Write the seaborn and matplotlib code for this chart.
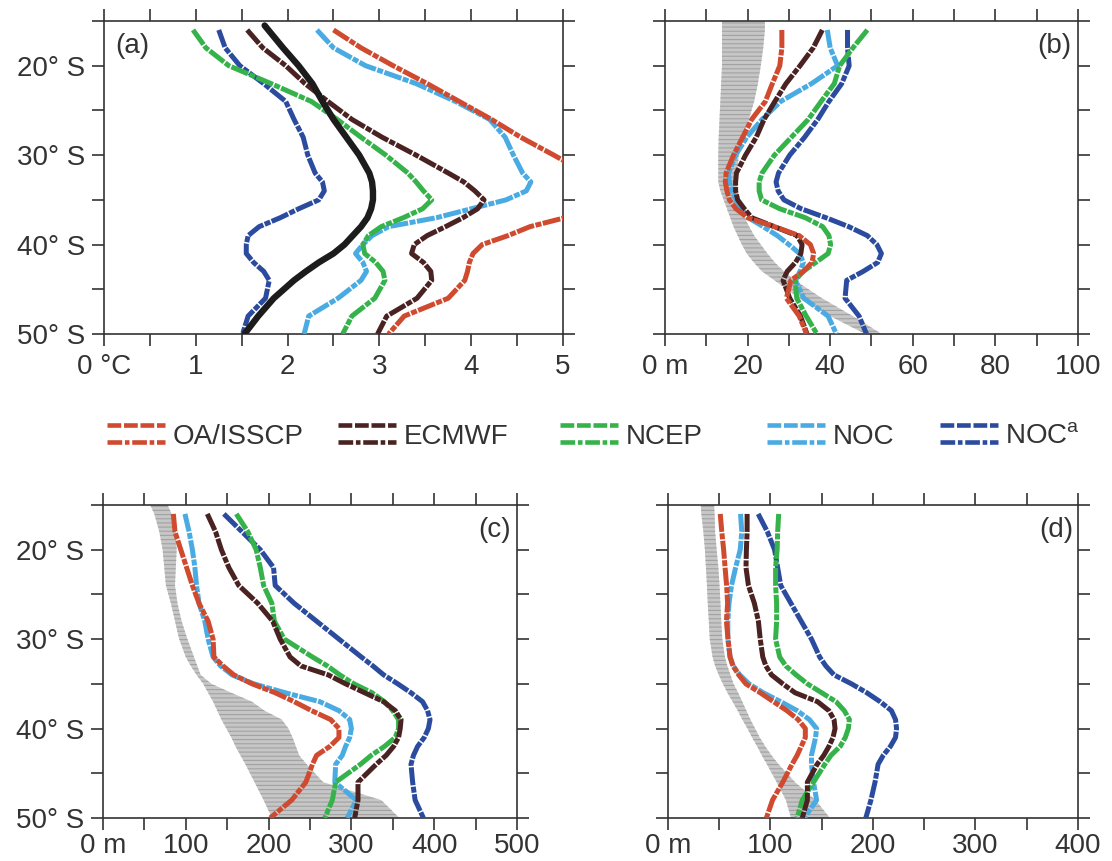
import numpy as np
import pandas as pd
import matplotlib
matplotlib.use("Agg")
import matplotlib.pyplot as plt
import seaborn as sns
from matplotlib.lines import Line2D
from matplotlib.legend_handler import HandlerBase
from matplotlib.ticker import MultipleLocator, FuncFormatter
import matplotlib.transforms as mtrans

# ---------------- data ----------------
lat = [16, 18, 20, 22, 24, 26, 28, 30, 32, 33, 34, 35, 36, 37, 38, 39,
       40, 41, 42, 43, 44, 46, 48, 50]
lat_band = [15] + lat
lat_obs = [15.5] + lat[1:]

# panel (a): SST differences (deg C)
a_obs = [1.75, 1.95, 2.12, 2.27, 2.38, 2.50, 2.64, 2.78, 2.89, 2.92, 2.93, 2.93, 2.91, 2.87, 2.80, 2.71,
         2.62, 2.50, 2.34, 2.20, 2.07, 1.85, 1.68, 1.53]
a_oa = [2.50, 2.80, 3.15, 3.52, 3.87, 4.22, 4.54, 4.90, 5.25, 5.40, 5.50, 5.45, 5.30, 5.02, 4.64, 4.40,
        4.12, 4.02, 3.98, 3.96, 3.93, 3.75, 3.27, 3.10]
a_ec = [1.56, 1.73, 1.98, 2.19, 2.44, 2.70, 3.03, 3.40, 3.75, 3.92, 4.04, 4.14, 4.07, 3.91, 3.72, 3.52,
        3.38, 3.35, 3.48, 3.56, 3.57, 3.41, 3.08, 2.98]
a_ncep = [0.97, 1.11, 1.36, 1.82, 2.26, 2.54, 2.80, 3.07, 3.31, 3.40, 3.48, 3.57, 3.47, 3.26, 3.02, 2.88,
          2.82, 2.84, 2.96, 3.04, 3.06, 2.95, 2.70, 2.60]
a_noc = [2.32, 2.50, 2.85, 3.40, 3.83, 4.20, 4.37, 4.46, 4.56, 4.65, 4.60, 4.38, 4.00, 3.62, 3.10, 2.92,
         2.82, 2.74, 2.82, 2.86, 2.80, 2.55, 2.23, 2.18]
a_noca = [1.25, 1.32, 1.48, 1.74, 1.98, 2.07, 2.17, 2.22, 2.30, 2.38, 2.40, 2.34, 2.12, 1.92, 1.69, 1.57,
          1.55, 1.55, 1.63, 1.74, 1.80, 1.76, 1.57, 1.51]

# panel (b) (m)
b_lo = [13.8, 13.8, 13.8, 13.8, 13.6, 13.4, 13.2, 13.0, 12.9, 12.9, 12.9, 13.4, 14.2, 15.0, 15.8, 16.6, 17.6,
        18.6, 19.8, 21.5, 23.5, 26.5, 32.5, 40.0, 48.5]
b_hi = [24.2, 24.2, 23.8, 23.2, 22.5, 21.6, 20.3, 18.9, 17.9, 17.4, 17.4, 17.6, 18.0, 18.5, 19.3, 20.4, 21.6,
        23.2, 24.8, 26.6, 28.8, 31.5, 38.0, 45.5, 52.5]
b_oa = [28.3, 28.3, 27.8, 26.0, 24.3, 21.0, 18.8, 16.6, 14.8, 14.6, 15.0, 15.6, 17.2, 20.0, 26.5, 32.5,
        35.2, 36.0, 35.6, 33.5, 30.5, 29.4, 32.5, 34.3]
b_ec = [38.1, 35.9, 32.7, 29.3, 26.6, 24.0, 22.1, 19.5, 17.3, 17.1, 17.1, 17.6, 19.2, 21.0, 26.5, 32.0,
        33.2, 32.9, 31.6, 29.6, 28.6, 30.2, 32.8, 34.4]
b_ncep = [49.0, 45.5, 42.3, 41.0, 37.8, 34.7, 30.6, 26.5, 23.5, 22.8, 22.8, 23.4, 27.8, 34.0, 38.2, 39.7,
          40.1, 39.5, 36.5, 33.5, 31.5, 31.9, 34.2, 36.8]
b_noc = [39.3, 40.0, 41.8, 35.5, 28.0, 23.5, 19.8, 17.1, 15.4, 15.6, 16.2, 17.2, 18.5, 20.2, 23.8, 27.2,
         30.0, 32.6, 33.5, 32.7, 31.6, 33.6, 39.5, 41.5]
b_noca = [44.2, 44.2, 44.6, 42.8, 39.7, 37.0, 33.8, 30.2, 27.5, 26.9, 27.4, 28.8, 33.0, 39.0, 44.5, 49.0,
          51.3, 52.4, 51.5, 48.0, 44.0, 43.6, 47.0, 48.8]

# panel (c) (m)
c_lo = [57, 62, 68, 72, 74, 76, 82, 87, 92, 100, 106, 113, 121, 127, 133, 138, 143,
        149, 155, 160, 166, 172, 183, 194, 204]
c_hi = [78, 83, 88, 89, 88, 87, 90, 95, 102, 110, 114, 118, 131, 155, 180, 195, 216,
        224, 229, 233, 237, 246, 266, 336, 358]
c_oa = [85, 87, 94, 101, 108, 116, 127, 133, 134, 145, 158, 180, 208, 231, 252, 275,
        285, 285, 274, 258, 253, 245, 228, 202]
c_ec = [126, 136, 143, 152, 164, 187, 205, 214, 226, 239, 272, 293, 316, 339, 353, 360,
        359, 357, 351, 342, 330, 308, 308, 304]
c_ncep = [161, 175, 185, 190, 194, 204, 207, 219, 253, 271, 286, 303, 325, 340, 350, 357,
          357, 353, 340, 324, 311, 281, 277, 268]
c_noc = [99, 104, 108, 111, 113, 116, 123, 127, 133, 142, 156, 182, 220, 262, 285, 298,
         300, 298, 293, 289, 281, 280, 306, 295]
c_noca = [146, 168, 190, 206, 208, 231, 258, 285, 312, 326, 339, 356, 372, 386, 392, 395,
          393, 388, 380, 375, 372, 374, 377, 387]

# panel (d) (m)
d_lo = [32, 32.5, 34.5, 36.0, 37.0, 38.0, 38.8, 39.8, 40.7, 43.5, 46, 49.5, 53.5, 58, 63, 68, 72.5,
        77.5, 82, 87, 91.5, 96.5, 106, 115, 120]
d_hi = [45, 45.5, 46, 47.5, 49.2, 50.3, 51.2, 52, 53, 55.5, 58, 61, 64, 68.5, 72.5, 76.5, 80.5,
        85, 89.5, 95, 101, 108, 124, 144, 158]
d_oa = [51, 52.5, 54.3, 55.7, 57.2, 58.2, 57, 58.6, 60.6, 63.5, 69, 76, 90, 103, 116, 127,
        134, 134, 130, 126, 121, 112, 102, 96]
d_ec = [77.2, 77.2, 76.5, 76.1, 78.5, 84.3, 88.2, 90, 92.5, 95.5, 101, 112, 124, 146, 157, 162,
        163, 161, 157, 152, 145.5, 136, 136, 131]
d_ncep = [108, 107, 106.5, 105, 105, 106, 106, 105, 109, 115, 125, 136, 150, 164, 172, 177,
          176, 173, 168, 159, 153, 142, 131, 126]
d_noc = [70.8, 72, 70.5, 66, 62, 59.5, 58.4, 58.4, 60.5, 63.5, 70, 79, 93, 110, 126, 138,
         145, 144, 142, 140, 140, 142, 145, 133]
d_noca = [88, 97, 104, 107, 110, 120, 130, 140, 148, 154, 162, 179, 194, 207, 218, 222,
          223, 222, 217, 210, 205, 202, 198, 193]

names = ["OA/ISSCP", "ECMWF", "NCEP", "NOC", "NOC$^\\mathregular{a}$"]
colors = ["#cf4a2f", "#4b2222", "#35b34a", "#4aabe2", "#2b4b9f"]

# ---------------- style ----------------
sns.set_style("ticks")
plt.rcParams["font.family"] = ["Liberation Sans Narrow", "Liberation Sans", "DejaVu Sans"]
plt.rcParams["hatch.linewidth"] = 0.8
TXT = "#333333"
FS = 20
DASH = (0, (3.6, 0.3, 1.2, 0.3))

fig = plt.figure(figsize=(11.12, 8.61), dpi=100)
ax_a = fig.add_axes([0.0935, 0.6121, 0.4128, 0.3635])
ax_b = fig.add_axes([0.598, 0.6121, 0.3714, 0.3635])
ax_c = fig.add_axes([0.0926, 0.0500, 0.3723, 0.3635])
ax_d = fig.add_axes([0.6007, 0.0500, 0.3687, 0.3635])


def draw_line(ax, lats, vals, color, lw=3.6, ls=DASH, z=3):
    df = pd.DataFrame({"lat": lats, "val": vals})
    sns.lineplot(data=df, x="val", y="lat", orient="y", estimator=None, sort=True,
                 color=color, linewidth=lw, linestyle=ls, ax=ax, legend=False, zorder=z)


def draw_band(ax, lo, hi):
    ax.fill_betweenx(lat_band, lo, hi, facecolor="#c6c6c6", edgecolor="#a2a2a2",
                     hatch="----", linewidth=0, zorder=1)


def style_axis(ax, xmax, xstep, lab_every, unit, ylabels, tag, tagx, tagha, xpad):
    ax.set_ylim(50, 15)
    ax.set_xlim(0, xmax)
    ax.set_xlabel("")
    ax.set_ylabel("")
    ax.yaxis.set_major_locator(MultipleLocator(5))
    ax.xaxis.set_major_locator(MultipleLocator(xstep))

    def yfmt(v, p):
        iv = int(round(v))
        return f"{iv}° S" if (ylabels and iv % 10 == 0 and 20 <= iv <= 50) else ""

    def xfmt(v, p):
        if abs(v) < 1e-9:
            return "0 " + unit
        r = v / lab_every
        if abs(r - round(r)) < 1e-6:
            return f"{v:g}"
        return ""

    ax.yaxis.set_major_formatter(FuncFormatter(yfmt))
    ax.xaxis.set_major_formatter(FuncFormatter(xfmt))
    ax.tick_params(which="both", direction="out", length=8.5, width=1.2, color=TXT,
                   top=True, right=True, labeltop=False, labelright=False,
                   labelleft=ylabels, labelcolor=TXT, labelsize=FS)
    ax.tick_params(axis="x", pad=xpad)
    ax.tick_params(axis="y", pad=5)
    for s in ax.spines.values():
        s.set_visible(True)
        s.set_linewidth(1.2)
        s.set_color(TXT)
    t0 = ax.xaxis.get_major_ticks()[0]
    t0.label1.set_horizontalalignment("left")
    t0.label1.set_transform(t0.label1.get_transform() +
                            mtrans.ScaledTranslation(-0.07, 0, fig.dpi_scale_trans))
    ax.text(tagx, 0.92, tag, transform=ax.transAxes, ha=tagha, va="center",
            fontsize=FS, color=TXT)


# panel (a)
for vals, c in zip([a_noca, a_noc, a_ncep, a_ec, a_oa], colors[::-1]):
    draw_line(ax_a, lat, vals, c)
draw_line(ax_a, lat_obs, a_obs, "#1c1c1c", lw=4.6, ls="-", z=5)
style_axis(ax_a, 5, 0.5, 1, "°C", True, "(a)", 0.025, "left", 6)

# panel (b)
draw_band(ax_b, b_lo, b_hi)
for vals, c in zip([b_noca, b_noc, b_ncep, b_ec, b_oa], colors[::-1]):
    draw_line(ax_b, lat, vals, c)
style_axis(ax_b, 100, 10, 20, "m", False, "(b)", 0.985, "right", 6)

# panel (c)
draw_band(ax_c, c_lo, c_hi)
for vals, c in zip([c_noca, c_noc, c_ncep, c_ec, c_oa], colors[::-1]):
    draw_line(ax_c, lat, vals, c)
style_axis(ax_c, 500, 50, 100, "m", True, "(c)", 0.985, "right", 2)

# panel (d)
draw_band(ax_d, d_lo, d_hi)
for vals, c in zip([d_noca, d_noc, d_ncep, d_ec, d_oa], colors[::-1]):
    draw_line(ax_d, lat, vals, c)
style_axis(ax_d, 400, 50, 100, "m", False, "(d)", 0.99, "right", 2)


# ---------------- legend ----------------
class TwoLineHandler(HandlerBase):
    def create_artists(self, legend, orig, xdescent, ydescent, width, height, fontsize, trans):
        c = orig.get_color()
        x0, x1 = -xdescent, -xdescent + width
        y1 = -ydescent + height * 1.0
        y2 = -ydescent + height * 0.1
        l1 = Line2D([x0, x1], [y1, y1], color=c, lw=3.3, ls=(0, (3.0, 0.6)), transform=trans)
        l2 = Line2D([x0, x1], [y2, y2], color=c, lw=3.3, ls=(0, (3.2, 0.6, 1.0, 0.6)), transform=trans)
        return [l1, l2]


leg_x = [0.0962, 0.304, 0.5036, 0.6898, 0.8453]
for nm, c, x in zip(names, colors, leg_x):
    h = Line2D([], [], color=c)
    lg = fig.legend([h], [nm], loc="center left", bbox_to_anchor=(x, 0.4925),
                    frameon=False, fontsize=FS, handlelength=2.1, handletextpad=0.25,
                    borderpad=0, borderaxespad=0, handler_map={Line2D: TwoLineHandler()})
    for t in lg.get_texts():
        t.set_color(TXT)

fig.savefig("out.png", dpi=100)
